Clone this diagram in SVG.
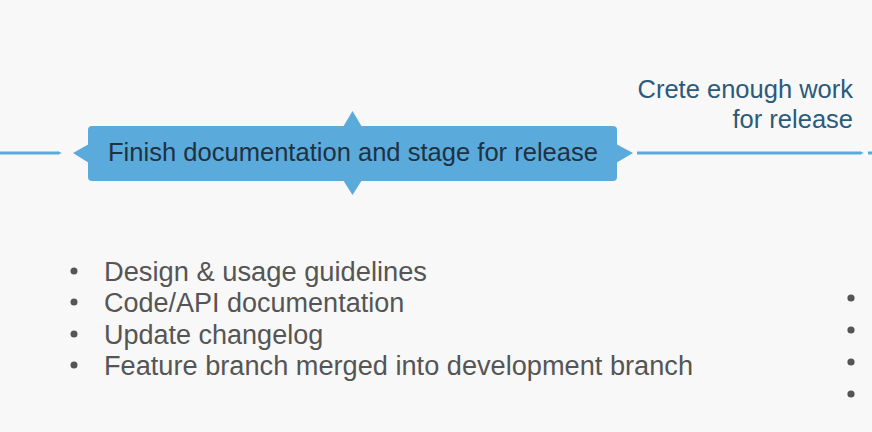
<svg xmlns="http://www.w3.org/2000/svg" width="872" height="432" viewBox="0 0 872 432">
<style>
.bg{fill:#f8f8f8}
.node{fill:#5aaadc}
.lbl{font-family:"Liberation Sans",Arial,sans-serif;font-size:25px;fill:#1e3242}
.note{font-family:"Liberation Sans",Arial,sans-serif;font-size:25.5px;fill:#2c5a7a}
.item{font-family:"Liberation Sans",Arial,sans-serif;font-size:27px;fill:#555555}
.dot{fill:#555555}
.conn{stroke:#5aaadc;stroke-width:3;fill:none}
</style>
<rect class="bg" x="0" y="0" width="872" height="432"/>
<g id="connectors">
<path class="conn" d="M0 153 H59"/>
<path class="node" d="M58 151.5 L62 153 L58 154.5 Z"/>
<path class="conn" d="M637 153 H861"/>
<path class="node" d="M860 151.5 L864 153 L860 154.5 Z"/>
<path class="conn" d="M868 153 H872"/>
</g>
<g id="node-finish">
<rect class="node" x="88" y="126" width="529" height="55" rx="4"/>
<polygon class="node" points="73,153 89,144 89,163"/>
<polygon class="node" points="633,153 616,144 616,163"/>
<polygon class="node" points="352.5,111 343,127 362,127"/>
<polygon class="node" points="352.5,195 343,180 362,180"/>
<text class="lbl" x="353" y="161" text-anchor="middle" textLength="490" lengthAdjust="spacingAndGlyphs">Finish documentation and stage for release</text>
</g>
<g id="note-create">
<text class="note" x="853" y="98" text-anchor="end">Crete enough work</text>
<text class="note" x="853" y="128" text-anchor="end">for release</text>
</g>
<g id="list-finish">
<circle class="dot" cx="74" cy="271" r="3.5"/>
<circle class="dot" cx="74" cy="302" r="3.5"/>
<circle class="dot" cx="74" cy="334" r="3.5"/>
<circle class="dot" cx="74" cy="365" r="3.5"/>
<text class="item" x="104" y="281" textLength="323" lengthAdjust="spacingAndGlyphs">Design &amp; usage guidelines</text>
<text class="item" x="104" y="312">Code/API documentation</text>
<text class="item" x="104" y="344">Update changelog</text>
<text class="item" x="104" y="375" textLength="589" lengthAdjust="spacingAndGlyphs">Feature branch merged into development branch</text>
</g>
<g id="list-next">
<circle class="dot" cx="851" cy="298" r="3.6"/>
<circle class="dot" cx="851" cy="330" r="3.6"/>
<circle class="dot" cx="851" cy="362" r="3.6"/>
<circle class="dot" cx="851" cy="394" r="3.6"/>
</g>
</svg>
